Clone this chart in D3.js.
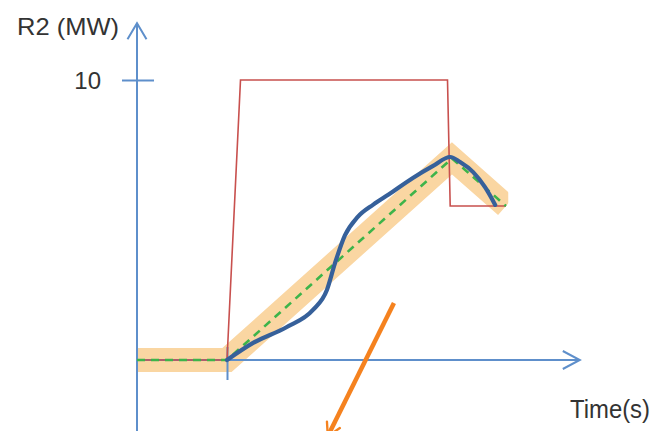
<!DOCTYPE html>
<html><head><meta charset="utf-8">
<script src="https://cdn.jsdelivr.net/npm/d3@7"></script>
<style>html,body{margin:0;padding:0;background:#fff;}svg{display:block;}</style>
</head><body>
<svg id="c" width="656" height="431"></svg>
<script>
// ---- data (time units, MW) ----
const xTicks = [2];
const yTicks = [10];
const yTickLabels = ["10"];
const yLabel = "R2 (MW)";
const xLabel = "Time(s)";
const axisX = [0, 9.84];      // x axis extent
const axisY = [-2.6, 12.03];  // y axis extent (bottom runs off the page)

const setpointT = [0, 2, 2.3, 6.9, 6.96, 8.2];     // red step command
const setpointV = [0, 0, 10, 10, 5.5, 5.5];

const rampT = [0, 2, 7.0, 8.2];                     // green dashed ramp
const rampV = [0, 0, 7.2, 5.5];

const bandRange = [0.02, 8.25];                     // orange tolerance band extent

const responseT = [2, 2.58, 3.33, 3.91, 4.22, 4.4, 4.62, 4.9, 5.25, 5.6, 6.13, 6.58, 6.96, 7.18, 7.47, 7.73, 7.96];
const responseV = [0, 0.61, 1.18, 1.79, 2.5, 3.46, 4.45, 5.1, 5.55, 5.92, 6.5, 6.93, 7.25, 7.07, 6.71, 6.18, 5.54];

const pointerT = [5.71, 4.24];   // orange annotation arrow
const pointerV = [2.04, -2.72];

// ---- scales ----
const x = d3.scaleLinear().domain([0, 10]).range([137, 587]);
const y = d3.scaleLinear().domain([0, 10]).range([360, 80]);

const svg = d3.select("#c");
const defs = svg.append("defs");
defs.append("clipPath").attr("id", "bandClip").append("rect")
  .attr("x", x(bandRange[0])).attr("width", x(bandRange[1]) - x(bandRange[0]))
  .attr("y", 0).attr("height", 431);
defs.append("marker").attr("id", "ah").attr("viewBox", "0 0 10 10")
  .attr("refX", 8).attr("refY", 5).attr("markerWidth", 4).attr("markerHeight", 4)
  .attr("markerUnits", "strokeWidth").attr("orient", "auto")
  .append("path").attr("d", "M1,1 L8,5 L1,9").attr("fill", "none")
  .attr("stroke", "#F5821F").attr("stroke-width", 1.3).attr("stroke-linecap", "round");

const line = d3.line().x(d => x(d[0])).y(d => y(d[1]));
const zip = (a, b) => a.map((v, i) => [v, b[i]]);

// band
svg.append("path").datum(zip(rampT, rampV)).attr("d", line)
  .attr("fill", "none").attr("stroke", "#FAD6A2").attr("stroke-width", 24)
  .attr("stroke-linejoin", "miter").attr("stroke-miterlimit", 10)
  .attr("clip-path", "url(#bandClip)");

// axes
const axCol = "#5E8FCB";
const ax = svg.append("g").attr("stroke", axCol).attr("stroke-width", 2).attr("fill", "none");
ax.append("line").attr("x1", x(0)).attr("x2", x(0)).attr("y1", y(axisY[0])).attr("y2", y(axisY[1]) + 1);
ax.append("line").attr("x1", x(0)).attr("x2", x(axisX[1]) - 1).attr("y1", y(0)).attr("y2", y(0));
// arrowheads
ax.append("path").attr("d", `M${x(0) - 9.5},${y(axisY[1]) + 16} L${x(0)},${y(axisY[1])} L${x(0) + 9.5},${y(axisY[1]) + 16}`);
ax.append("path").attr("d", `M${x(axisX[1]) - 17},${y(0) - 9} L${x(axisX[1])},${y(0)} L${x(axisX[1]) - 17},${y(0) + 9}`);

// ticks via d3 axes
const gx = svg.append("g").attr("transform", `translate(0,${y(0)})`)
  .call(d3.axisBottom(x).tickValues(xTicks).tickFormat("").tickSizeOuter(0));
gx.select(".domain").remove();
gx.selectAll(".tick line").attr("y1", -13).attr("y2", 20).attr("stroke", axCol).attr("stroke-width", 2);

const gy = svg.append("g").attr("transform", `translate(${x(0)},0)`)
  .call(d3.axisLeft(y).tickValues(yTicks).tickFormat((d, i) => yTickLabels[i]).tickSizeOuter(0));
gy.select(".domain").remove();
gy.selectAll(".tick line").attr("x1", -15).attr("x2", 17).attr("stroke", axCol).attr("stroke-width", 2);
gy.selectAll(".tick text").attr("x", -36).attr("dy", "0.34em")
  .attr("font-family", "Liberation Sans, Arial, sans-serif").attr("font-size", 24).attr("fill", "#333");

// red setpoint
svg.append("path").datum(zip(setpointT, setpointV)).attr("d", line)
  .attr("fill", "none").attr("stroke", "#C8504E").attr("stroke-width", 1.6);

// green dashed ramp
svg.append("path").datum(zip(rampT, rampV)).attr("d", line)
  .attr("fill", "none").attr("stroke", "#3DB44A").attr("stroke-width", 2.6)
  .attr("stroke-dasharray", "8,6");

// blue response
svg.append("path").datum(zip(responseT, responseV))
  .attr("d", d3.line().x(d => x(d[0])).y(d => y(d[1])).curve(d3.curveMonotoneX))
  .attr("fill", "none").attr("stroke", "#36609A").attr("stroke-width", 4.2)
  .attr("stroke-linecap", "round");

// orange pointer arrow
svg.append("path").datum(zip(pointerT, pointerV)).attr("d", line)
  .attr("fill", "none").attr("stroke", "#F5821F").attr("stroke-width", 4.5)
  .attr("marker-end", "url(#ah)");

// labels
svg.append("text").attr("x", 17).attr("y", 35).text(yLabel)
  .attr("font-family", "Liberation Sans, Arial, sans-serif").attr("font-size", 24).attr("fill", "#333")
  .attr("textLength", 102).attr("lengthAdjust", "spacingAndGlyphs");
svg.append("text").attr("x", 570).attr("y", 418).text(xLabel)
  .attr("font-family", "Liberation Sans, Arial, sans-serif").attr("font-size", 26).attr("fill", "#333")
  .attr("textLength", 80).attr("lengthAdjust", "spacingAndGlyphs");
</script>
</body></html>
